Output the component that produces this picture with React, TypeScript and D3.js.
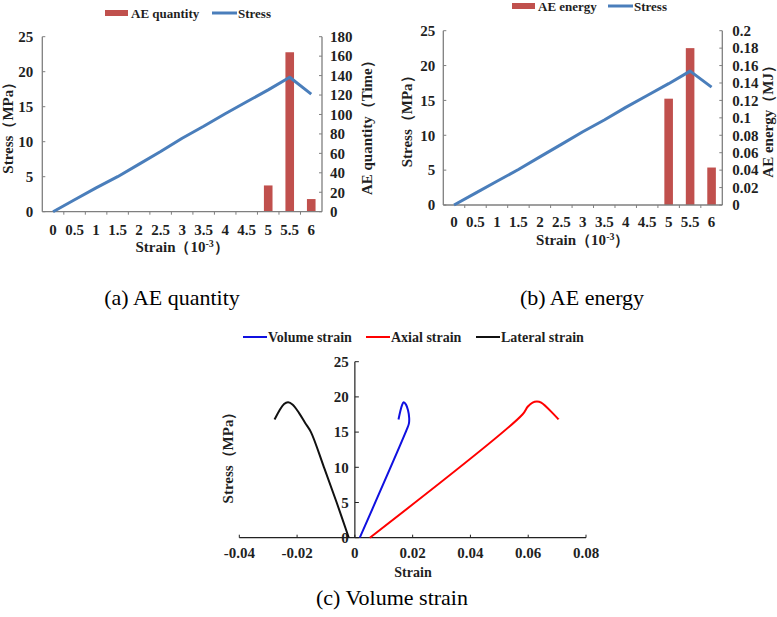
import React from "react";
import * as d3 from "d3";

const strainCats = ["0", "0.5", "1", "1.5", "2", "2.5", "3", "3.5", "4", "4.5", "5", "5.5", "6"];
const stressA = [0, 1.7, 3.4, 5.0, 6.8, 8.6, 10.5, 12.2, 14.0, 15.7, 17.4, 19.2, 16.8];
const aeQuantity = [0, 0, 0, 0, 0, 0, 0, 0, 0, 0, 27, 164, 13];
const stressB = [0, 1.7, 3.4, 5.1, 6.9, 8.7, 10.5, 12.2, 14.0, 15.7, 17.4, 19.2, 16.9];
const aeEnergy = [0, 0, 0, 0, 0, 0, 0, 0, 0, 0, 0.122, 0.18, 0.043];
const stressTicks = [0, 5, 10, 15, 20, 25];
const quantityTicks = [0, 20, 40, 60, 80, 100, 120, 140, 160, 180];
const energyTicks = [0, 0.02, 0.04, 0.06, 0.08, 0.1, 0.12, 0.14, 0.16, 0.18, 0.2];

const lateralStrain: [number, number][] = [
  [-0.0021, 0], [-0.0063, 5], [-0.0107, 10], [-0.0152, 15], [-0.0172, 16.3],
  [-0.0193, 17.7], [-0.0215, 18.9], [-0.0231, 19.25], [-0.0245, 19.0], [-0.0278, 16.8],
];
const volumeStrain: [number, number][] = [
  [0.0017, 0], [0.0179, 15.3], [0.0187, 16.2], [0.0188, 17.0], [0.0184, 18.1],
  [0.0177, 18.9], [0.0169, 19.25], [0.0163, 18.8], [0.0151, 16.8],
];
const axialStrain: [number, number][] = [
  [0.0052, 0], [0.058, 17.5], [0.0598, 18.6], [0.0615, 19.2], [0.063, 19.35],
  [0.0645, 19.2], [0.0705, 16.8],
];
const cXTicks = [-0.04, -0.02, 0, 0.02, 0.04, 0.06, 0.08];
const cYTicks = [0, 5, 10, 15, 20, 25];

const FONT = "'Liberation Serif', 'Times New Roman', serif";
const TXT = "#1f1f1f";
const BAR = "#C0504D";
const LINE = "#4A7EBB";
const AXIS = "#7f7f7f";

type ComboProps = {
  left: number; right: number; top: number; bottom: number;
  legendY: number; barLabel: string; rightTitle: string;
  stress: number[]; bars: number[]; rightTicks: number[]; rightMax: number;
  leftTitleX: number; rightTitleX: number; leftLabelGap: number; rightLabelGap: number;
  xLabelDy: number; xTitleDy: number; legendX: number; stressX: number;
  fmt: (v: number) => string;
};

function Combo(p: ComboProps) {
  const x = d3.scaleBand<string>().domain(strainCats).range([p.left, p.right]);
  const yL = d3.scaleLinear().domain([0, 25]).range([p.bottom, p.top]);
  const yR = d3.scaleLinear().domain([0, p.rightMax]).range([p.bottom, p.top]);
  const bw = x.bandwidth() * 0.4;
  const line = d3.line<number>().x((_, i) => x(strainCats[i])! + x.bandwidth() / 2).y((d) => yL(d));
  const midY = (p.top + p.bottom) / 2;
  const lx = p.legendX;
  return (
    <g fontFamily={FONT} fontWeight="bold" fill={TXT}>
      <rect x={lx} y={p.legendY - 3} width={23} height={6} fill={BAR} />
      <text x={lx + 26} y={p.legendY} dy="0.35em" fontSize={13}>{p.barLabel}</text>
      <line x1={p.stressX} x2={p.stressX + 25} y1={p.legendY} y2={p.legendY} stroke={LINE} strokeWidth={3} />
      <text x={p.stressX + 26} y={p.legendY} dy="0.35em" fontSize={13}>Stress</text>
      {p.bars.map((v, i) => v > 0 ? (
        <rect key={i} x={x(strainCats[i])! + (x.bandwidth() - bw) / 2} y={yR(v)} width={bw} height={p.bottom - yR(v)} fill={BAR} />
      ) : null)}
      <line x1={p.left} x2={p.left} y1={p.top} y2={p.bottom} stroke={AXIS} strokeWidth={1.3} />
      <line x1={p.right} x2={p.right} y1={p.top} y2={p.bottom} stroke={AXIS} strokeWidth={1.3} />
      <line x1={p.left} x2={p.right} y1={p.bottom} y2={p.bottom} stroke={AXIS} strokeWidth={1.3} />
      {stressTicks.map((t) => (
        <g key={"l" + t}>
          <line x1={p.left} x2={p.left + 3} y1={yL(t)} y2={yL(t)} stroke={AXIS} />
          <text x={p.left - p.leftLabelGap} y={yL(t)} dy="0.35em" textAnchor="end" fontSize={15}>{t}</text>
        </g>
      ))}
      {p.rightTicks.map((t) => (
        <g key={"r" + t}>
          <line x1={p.right - 3} x2={p.right} y1={yR(t)} y2={yR(t)} stroke={AXIS} />
          <text x={p.right + p.rightLabelGap} y={yR(t)} dy="0.35em" textAnchor="start" fontSize={15}>{p.fmt(t)}</text>
        </g>
      ))}
      {strainCats.map((c, i) => (
        <g key={"x" + c}>
          {i > 0 ? <line x1={x(c)!} x2={x(c)!} y1={p.bottom} y2={p.bottom + 3} stroke={AXIS} /> : null}
          <text x={x(c)! + x.bandwidth() / 2} y={p.bottom + p.xLabelDy} dy="0.35em" textAnchor="middle" fontSize={15}>{c}</text>
        </g>
      ))}
      <path d={line(p.stress)!} fill="none" stroke={LINE} strokeWidth={3} strokeLinejoin="round" />
      <text transform={`translate(${p.leftTitleX},${midY}) rotate(-90)`} textAnchor="middle" dy="0.35em" fontSize={15}>Stress（MPa）</text>
      <text transform={`translate(${p.rightTitleX},${midY}) rotate(-90)`} textAnchor="middle" dy="0.35em" fontSize={15}>{p.rightTitle}</text>
      <text x={(p.left + p.right) / 2} y={p.bottom + p.xTitleDy} dy="0.35em" textAnchor="middle" fontSize={15}>
        Strain（10<tspan dy="-5" fontSize={10}>-3</tspan><tspan dy="5">）</tspan>
      </text>
    </g>
  );
}

function VolumeChart() {
  const x = d3.scaleLinear().domain([-0.04, 0.08]).range([239.3, 586]);
  const y = d3.scaleLinear().domain([0, 25]).range([537.7, 361.7]);
  const line = d3.line<[number, number]>().x((d) => x(d[0])).y((d) => y(d[1])).curve(d3.curveCatmullRom.alpha(0.5));
  const x0 = x(0);
  const y0 = y(0);
  const series = [
    { name: "Volume strain", data: volumeStrain, color: "#1010E0", lx: 243 },
    { name: "Axial strain", data: axialStrain, color: "#FF0000", lx: 366 },
    { name: "Lateral strain", data: lateralStrain, color: "#111111", lx: 476 },
  ];
  return (
    <g fontFamily={FONT} fontWeight="bold" fill={TXT}>
      {series.map((s) => (
        <g key={s.name}>
          <line x1={s.lx} x2={s.lx + 24} y1={337} y2={337} stroke={s.color} strokeWidth={2} />
          <text x={s.lx + 25} y={337} dy="0.35em" fontSize={14}>{s.name}</text>
        </g>
      ))}
      <line x1={x(-0.04)} x2={x(0.08)} y1={y0} y2={y0} stroke="#222" strokeWidth={1.2} />
      <line x1={x0} x2={x0} y1={y(25)} y2={y0} stroke="#222" strokeWidth={1.2} />
      {cXTicks.map((t) => (
        <g key={"cx" + t}>
          <line x1={x(t)} x2={x(t)} y1={y0 - 3} y2={y0} stroke="#222" />
          <text x={x(t)} y={y0 + 15} dy="0.35em" textAnchor="middle" fontSize={15}>{t === 0 ? "0" : String(t)}</text>
        </g>
      ))}
      {cYTicks.map((t) => (
        <g key={"cy" + t}>
          <line x1={x0} x2={x0 + 4} y1={y(t)} y2={y(t)} stroke="#222" />
          <text x={x0 - 6} y={y(t)} dy="0.35em" textAnchor="end" fontSize={15}>{t}</text>
        </g>
      ))}
      {series.map((s) => (
        <path key={"p" + s.name} d={line(s.data)!} fill="none" stroke={s.color} strokeWidth={2} />
      ))}
      <text transform={`translate(228,454) rotate(-90)`} textAnchor="middle" dy="0.35em" fontSize={15}>Stress（MPa）</text>
      <text x={413} y={572} dy="0.35em" textAnchor="middle" fontSize={14}>Strain</text>
    </g>
  );
}

export default function App() {
  return (
    <svg width={777} height={617} style={{ position: "absolute", left: 0, top: 0, background: "#fff" }}>
      <rect width={777} height={617} fill="#fff" />
      <Combo left={42.3} right={322} top={36.7} bottom={211.7} legendY={13} legendX={105} stressX={212}
        barLabel="AE quantity" rightTitle="AE quantity（Time）" stress={stressA} bars={aeQuantity}
        rightTicks={quantityTicks} rightMax={180} leftTitleX={8} rightTitleX={367}
        leftLabelGap={9} rightLabelGap={8} xLabelDy={18} xTitleDy={35} fmt={(v) => String(v)} />
      <Combo left={443.3} right={722.3} top={30.7} bottom={205} legendY={6} legendX={512} stressX={608}
        barLabel="AE energy" rightTitle="AE energy（MJ）" stress={stressB} bars={aeEnergy}
        rightTicks={energyTicks} rightMax={0.2} leftTitleX={407} rightTitleX={768}
        leftLabelGap={8} rightLabelGap={10} xLabelDy={17} xTitleDy={35} fmt={(v) => String(+v.toFixed(2))} />
      <VolumeChart />
      <g fontFamily={FONT} fill="#000" fontSize={22}>
        <text x={172} y={297} dy="0.35em" textAnchor="middle">(a) AE quantity</text>
        <text x={582} y={297} dy="0.35em" textAnchor="middle">(b) AE energy</text>
        <text x={392} y={597} dy="0.35em" textAnchor="middle">(c) Volume strain</text>
      </g>
    </svg>
  );
}
